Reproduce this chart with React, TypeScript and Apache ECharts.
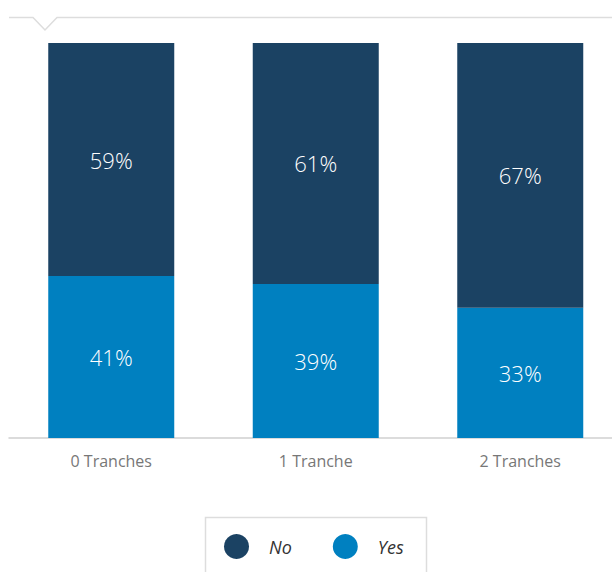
import React, { useEffect, useRef } from "react";
import * as echarts from "echarts";

const categories = ["0 Tranches", "1 Tranche", "2 Tranches"];
const yesValues = [41, 39, 33];
const noValues = [59, 61, 67];
const legendOrder = ["No", "Yes"];

const FONT = "'Open Sans', 'Noto Sans', sans-serif";

export default function App() {
  const ref = useRef<HTMLDivElement>(null);
  useEffect(() => {
    if (!ref.current) return;
    const chart = echarts.init(ref.current, null, { renderer: "svg" });
    const labelStyle = {
      show: true,
      position: "inside" as const,
      color: "#ffffff",
      fontSize: 22,
      fontWeight: 350,
      fontFamily: FONT,
      textBorderWidth: 0,
      textBorderColor: "transparent",
      formatter: (p: any) => p.value + "%",
    };
    chart.setOption({
      animation: false,
      backgroundColor: "#ffffff",
      textStyle: { fontFamily: FONT },
      grid: { left: 9, width: 613.5, top: 43, height: 395, containLabel: false, outerBoundsMode: "none" },
      xAxis: {
        type: "category",
        data: categories,
        axisLine: { show: true, lineStyle: { color: "#d0d0d0", width: 1.5 } },
        axisTick: { show: false },
        axisLabel: { color: "#777777", fontSize: 16, fontFamily: FONT, margin: 15 },
      },
      yAxis: {
        type: "value",
        min: 0,
        max: 100,
        show: false,
        splitLine: { show: false },
      },
      legend: {
        data: legendOrder,
        left: 219,
        top: 529,
        icon: "circle",
        itemWidth: 25,
        itemHeight: 25,
        itemGap: 41,
        textStyle: {
          fontSize: 18,
          fontStyle: "italic",
          color: "#333333",
          fontFamily: FONT,
          padding: [0, 0, 0, 15],
        },
      },
      graphic: [
        {
          type: "polyline",
          shape: { points: [[9, 17.5], [33, 17.5], [45, 30], [57, 17.5], [612, 17.5]] },
          style: { stroke: "#dddddd", lineWidth: 1.5, fill: "none" },
          silent: true,
        },
        {
          type: "rect",
          shape: { x: 205.5, y: 517.5, width: 221, height: 80 },
          style: { stroke: "#dddddd", lineWidth: 1.5, fill: "none" },
          silent: true,
          z: -1,
        },
      ],
      series: [
        {
          name: "Yes",
          type: "bar",
          stack: "total",
          data: yesValues,
          barWidth: 126,
          itemStyle: { color: "#0080c0" },
          label: labelStyle,
        },
        {
          name: "No",
          type: "bar",
          stack: "total",
          data: noValues,
          barWidth: 126,
          itemStyle: { color: "#1b4263" },
          label: labelStyle,
        },
      ],
    });
    return () => chart.dispose();
  }, []);
  return (
    <div style={{ position: "fixed", left: 0, top: 0, width: 612, height: 572, overflow: "hidden", background: "#fff" }}>
      <div ref={ref} style={{ width: 640, height: 572 }} />
    </div>
  );
}
